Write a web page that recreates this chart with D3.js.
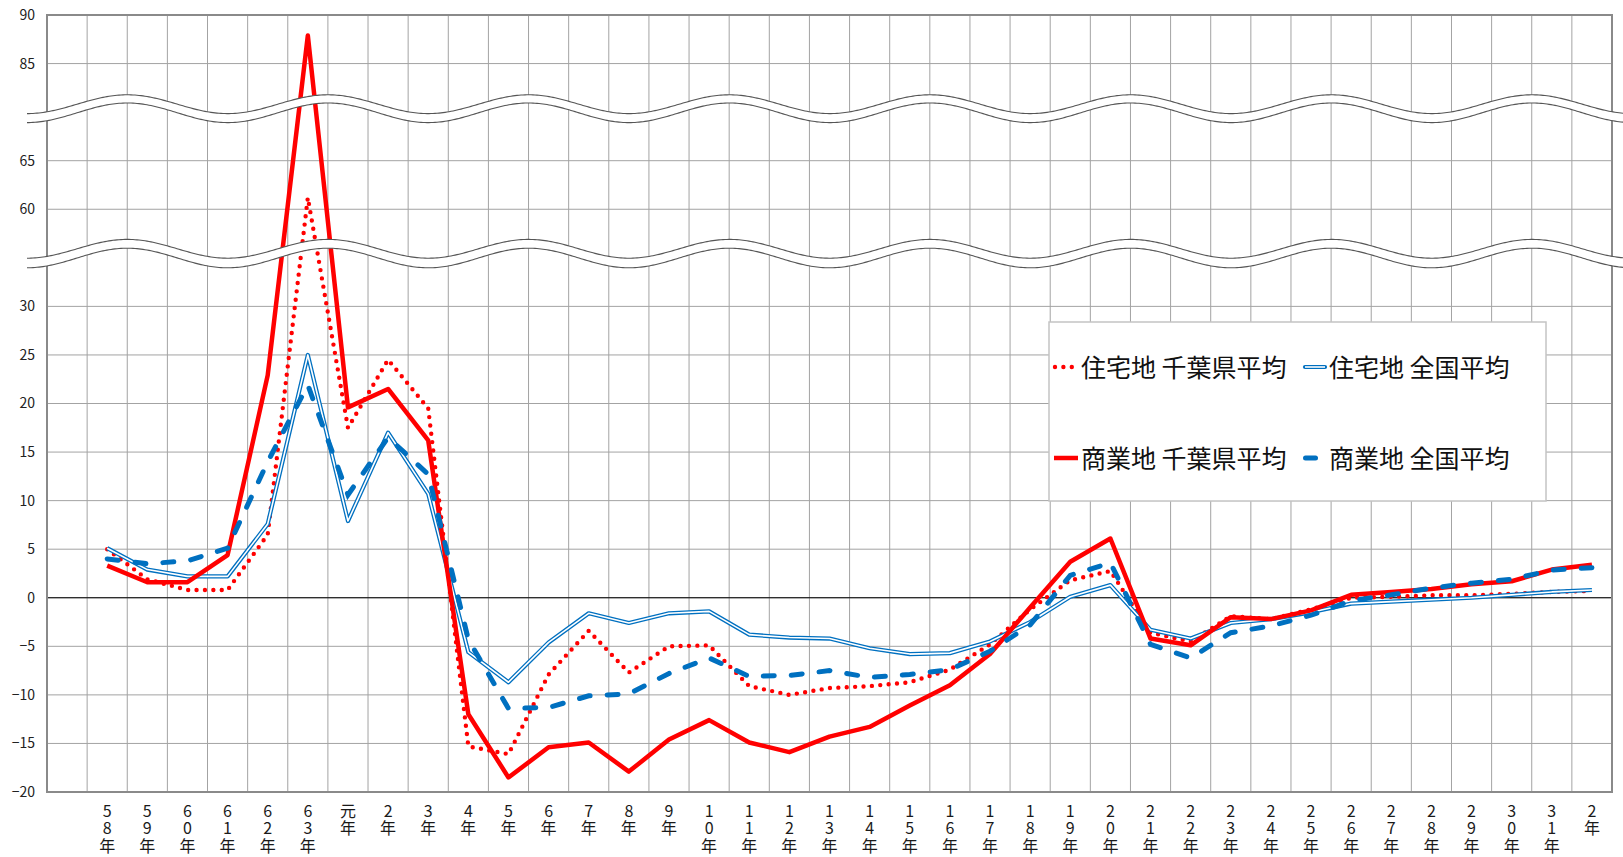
<!DOCTYPE html>
<html lang="ja">
<head>
<meta charset="utf-8">
<script src="https://cdn.jsdelivr.net/npm/d3@7"></script>
<style>
  html, body { margin: 0; padding: 0; background: #fff; }
  svg { display: block; font-family: "Noto Sans CJK JP", "Noto Sans", sans-serif; }
  .xlabel { writing-mode: vertical-rl; text-orientation: upright; letter-spacing: 1.7px; }
</style>
</head>
<body>
<div id="chart"></div>
<script>
// 昭和58年 … 平成31年, 令和2年
const years = [
  "58年", "59年", "60年", "61年", "62年", "63年", "元年", "2年", "3年", "4年",
  "5年", "6年", "7年", "8年", "9年", "10年", "11年", "12年", "13年", "14年",
  "15年", "16年", "17年", "18年", "19年", "20年", "21年", "22年", "23年", "24年",
  "25年", "26年", "27年", "28年", "29年", "30年", "31年", "2年"
]

const residentialChiba = [
  5.0, 1.9, 0.8, 0.8, 6.5, 61.2, 17.5, 24.5, 19.5, -15.3,
  -16.1, -7.9, -3.4, -7.7, -5.0, -4.9, -9.1, -10.0, -9.3, -9.1,
  -8.7, -7.4, -4.8, -1.2, 1.8, 2.75, -3.6, -4.5, -1.9, -2.2,
  -1.2, 0.0, 0.1, 0.25, 0.25, 0.4, 0.6, 0.7
]
const residentialNation = [
  5.1, 2.9, 2.2, 2.2, 7.6, 25.0, 7.9, 17.0, 10.7, -5.6,
  -8.7, -4.6, -1.6, -2.6, -1.6, -1.4, -3.8, -4.1, -4.2, -5.2,
  -5.8, -5.7, -4.5, -2.5, 0.1, 1.3, -3.3, -4.2, -2.6, -2.2,
  -1.5, -0.6, -0.4, -0.2, 0.0, 0.3, 0.6, 0.8
]
const commercialChiba = [
  3.3, 1.6, 1.6, 4.4, 22.9, 87.9, 19.6, 21.5, 16.2, -12.0,
  -18.5, -15.4, -14.9, -17.9, -14.6, -12.6, -14.9, -15.9, -14.3, -13.3,
  -11.1, -9.0, -5.8, -1.0, 3.7, 6.1, -4.2, -4.9, -2.0, -2.2,
  -1.3, 0.3, 0.6, 0.9, 1.4, 1.7, 2.9, 3.4
]
const commercialNation = [
  4.0, 3.5, 3.8, 5.1, 14.0, 21.9, 10.6, 16.5, 12.7, -4.3,
  -11.4, -11.3, -10.1, -9.9, -7.8, -6.2, -8.1, -8.0, -7.5, -8.2,
  -7.9, -7.4, -5.5, -2.8, 2.3, 3.6, -4.8, -6.2, -3.6, -2.9,
  -1.8, -0.3, 0.3, 1.0, 1.5, 1.9, 2.85, 3.1
]

const legendLabels = ["住宅地 千葉県平均", "住宅地 全国平均", "商業地 千葉県平均", "商業地 全国平均"]

const yTicks = [-20, -15, -10, -5, 0, 5, 10, 15, 20, 25, 30, 60, 65, 85, 90]

const width = 1623
const height = 857
const plot = { left: 47, right: 1612, top: 15, bottom: 792 }

const red = "#ff0000"
const blue = "#0070c0"
const gridColor = "#a3a3a3"

const svg = d3.select("#chart")
  .append("svg")
  .attr("width", width)
  .attr("height", height)

// slot 0 is an empty band before the first year
const x = d3.scaleBand()
  .domain(d3.range(years.length + 1))
  .range([plot.left, plot.right])
const xc = (i) => x(i + 1) + x.bandwidth() / 2

// real axis runs -20..60; the labels above 30 are shifted past two breaks
const yReal = d3.scaleLinear().domain([-20, 60]).range([plot.bottom, plot.top])
const y = d3.scaleLinear()
  .domain([-20, 30, 60, 65, 85, 90])
  .range([-20, 30, 40, 45, 55, 60].map(yReal))

// grid
const grid = svg.append("g")
grid.selectAll("line.v")
  .data(d3.range(1, years.length + 1))
  .enter()
    .append("line")
    .attr("class", "v")
    .attr("x1", d => x(d)).attr("x2", d => x(d))
    .attr("y1", plot.top).attr("y2", plot.bottom)
    .attr("stroke", gridColor)
    .attr("stroke-width", 1)
grid.selectAll("line.h")
  .data(yTicks.filter(d => d > -20 && d < 90))
  .enter()
    .append("line")
    .attr("class", "h")
    .attr("x1", plot.left).attr("x2", plot.right)
    .attr("y1", d => y(d)).attr("y2", d => y(d))
    .attr("stroke", gridColor)
    .attr("stroke-width", 1)

svg.append("line")
  .attr("x1", plot.left).attr("x2", plot.right)
  .attr("y1", y(0)).attr("y2", y(0))
  .attr("stroke", "#000")
  .attr("stroke-width", 1.2)

// series
const line = d3.line()
  .x((d, i) => xc(i))
  .y(d => y(d))

const drawSeries = (values, kind) => {
  const g = svg.append("g").attr("fill", "none")
  if (kind === "dot") {
    g.append("path").attr("d", line(values))
      .attr("stroke", red).attr("stroke-width", 4.4)
      .attr("stroke-linecap", "round").attr("stroke-dasharray", "0 8.4")
  } else if (kind === "double") {
    g.append("path").attr("d", line(values))
      .attr("stroke", blue).attr("stroke-width", 4.2).attr("stroke-linejoin", "round")
    g.append("path").attr("d", line(values))
      .attr("stroke", "#fff").attr("stroke-width", 1.6).attr("stroke-linejoin", "round")
  } else if (kind === "solid") {
    g.append("path").attr("d", line(values))
      .attr("stroke", red).attr("stroke-width", 4.5).attr("stroke-linejoin", "round")
  } else {
    g.append("path").attr("d", line(values))
      .attr("stroke", blue).attr("stroke-width", 5)
      .attr("stroke-linecap", "round").attr("stroke-dasharray", "11 17")
  }
}

drawSeries(residentialChiba, "dot")
drawSeries(residentialNation, "double")
drawSeries(commercialChiba, "solid")
drawSeries(commercialNation, "dash")

// plot frame
svg.append("rect")
  .attr("x", plot.left).attr("y", plot.top)
  .attr("width", plot.right - plot.left)
  .attr("height", plot.bottom - plot.top)
  .attr("fill", "none")
  .attr("stroke", "#8a8a8a")
  .attr("stroke-width", 2)

// axis break waves
const period = 200.7
const phase = x(2)
const waveXs = d3.range(27, width + 2, 2)
const wave = (c, a) => (px) => c - a * Math.cos(2 * Math.PI * (px - phase) / period)

const drawBreak = (cTop, cBottom) => {
  const top = wave(cTop, 9.4)
  const bottom = wave(cBottom, 9.8)
  svg.append("path")
    .attr("d", d3.area().x(d => d).y0(bottom).y1(top)(waveXs))
    .attr("fill", "#fff")
  ;[top, bottom].forEach(f => {
    svg.append("path")
      .attr("d", d3.line().x(d => d).y(f)(waveXs))
      .attr("fill", "none")
      .attr("stroke", "#555")
      .attr("stroke-width", 1.1)
  })
}
drawBreak(104.2, 112.8)
drawBreak(248.8, 258)

// y axis labels
const yAxis = svg.append("g")
  .attr("transform", `translate(${plot.left},0)`)
  .call(d3.axisLeft(y).tickValues(yTicks).tickSize(0).tickPadding(12))
yAxis.select(".domain").remove()
yAxis.selectAll("text")
  .attr("fill", "#222")
  .style("font-size", "14px")
  .style("font-family", "'Noto Sans CJK JP', sans-serif")

// x labels, written top to bottom
svg.append("g")
  .attr("font-size", 16)
  .attr("fill", "#1a1a1a")
  .selectAll("text")
  .data(years)
  .enter()
    .append("text")
    .attr("class", "xlabel")
    .attr("x", (d, i) => xc(i))
    .attr("y", 802.5)
    .text(d => d)

// legend
const legend = svg.append("g")
legend.append("rect")
  .attr("x", 1049).attr("y", 322)
  .attr("width", 497).attr("height", 179)
  .attr("fill", "#fff")
  .attr("stroke", "#c4c4c4")
  .attr("stroke-width", 1.5)

const colX = [1053, 1303]
const textX = [1081, 1329]
const rowY = [367, 458]

legendLabels.forEach((label, k) => {
  const col = k % 2
  const row = Math.floor(k / 2)
  const cx = colX[col]
  const cy = rowY[row]
  const g = legend.append("g").attr("fill", "none")
  if (k === 0) {
    g.append("line").attr("x1", cx + 2).attr("x2", cx + 19).attr("y1", cy).attr("y2", cy)
      .attr("stroke", red).attr("stroke-width", 4.4)
      .attr("stroke-linecap", "round").attr("stroke-dasharray", "0 8.4")
  } else if (k === 1) {
    g.append("line").attr("x1", cx + 2).attr("x2", cx + 22).attr("y1", cy).attr("y2", cy)
      .attr("stroke", blue).attr("stroke-width", 4.2).attr("stroke-linecap", "round")
    g.append("line").attr("x1", cx + 2).attr("x2", cx + 22).attr("y1", cy).attr("y2", cy)
      .attr("stroke", "#fff").attr("stroke-width", 1.6)
  } else if (k === 2) {
    g.append("line").attr("x1", cx + 1).attr("x2", cx + 25).attr("y1", cy).attr("y2", cy)
      .attr("stroke", red).attr("stroke-width", 4.5)
  } else {
    g.append("line").attr("x1", cx + 2.5).attr("x2", cx + 12.5).attr("y1", cy).attr("y2", cy)
      .attr("stroke", blue).attr("stroke-width", 5).attr("stroke-linecap", "round")
  }
  legend.append("text")
    .attr("x", textX[col])
    .attr("y", cy + 9.5)
    .attr("font-size", 25)
    .attr("fill", "#111")
    .text(label)
})
</script>
</body>
</html>
